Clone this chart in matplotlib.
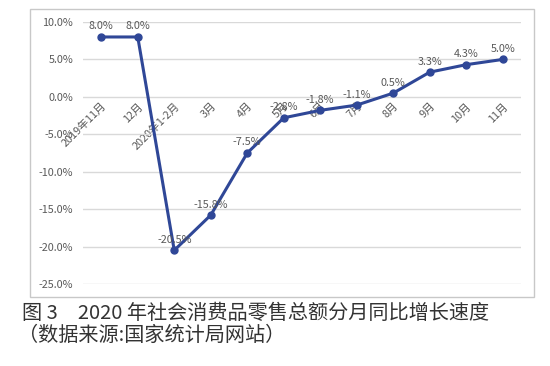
import matplotlib.pyplot as plt
from matplotlib.patches import Rectangle

plt.rcParams['font.family'] = ['Noto Sans CJK SC', 'DejaVu Sans']

months = ['2019年11月', '12月', '2020年1-2月', '3月', '4月', '5月',
          '6月', '7月', '8月', '9月', '10月', '11月']
growth = [8.0, 8.0, -20.5, -15.8, -7.5, -2.8, -1.8, -1.1, 0.5, 3.3, 4.3, 5.0]
yticks = [10, 5, 0, -5, -10, -15, -20, -25]

LINE = '#2f4797'
GREY = '#595959'

fig = plt.figure(figsize=(5.5, 3.66), dpi=100)

# chart frame
fig.patches.append(Rectangle((30 / 550, 1 - 297 / 366), 504 / 550, 288 / 366,
                             transform=fig.transFigure, fill=False,
                             edgecolor='#c8c8c8', lw=1.0))

ax = fig.add_axes([83 / 550, 1 - 284 / 366, 438 / 550, 262 / 366])
x = list(range(len(months)))
ax.plot(x, growth, color=LINE, lw=2.2, marker='o', ms=5, zorder=3)

for xi, v in zip(x, growth):
    ax.annotate(f'{v:.1f}%', (xi, v), xytext=(0, 4), textcoords='offset points',
                ha='center', va='bottom', fontsize=7.8, color=GREY, zorder=4)

ax.set_xlim(-0.5, len(months) - 0.5)
ax.set_ylim(-25, 10)
ax.set_yticks(yticks)
ax.set_yticklabels([f'{t:.1f}%' for t in yticks], fontsize=7.8, color=GREY)
ax.grid(axis='y', color='#d9d9d9', lw=1.0)
ax.set_axisbelow(True)

ax.spines['bottom'].set_position(('data', 0))
for s in ax.spines.values():
    s.set_visible(False)
ax.set_xticks(x)
ax.set_xticklabels(months, rotation=45, ha='right', va='top',
                   rotation_mode='anchor', fontsize=7.8, color=GREY)
ax.tick_params(axis='both', length=0)
ax.tick_params(axis='x', pad=3)
ax.tick_params(axis='y', pad=7)

fig.text(22 / 550, 1 - 319 / 366, '图 3　2020 年社会消费品零售总额分月同比增长速度',
         fontsize=14.5, color='#333333', va='baseline', ha='left')
fig.text(18 / 550, 1 - 341 / 366, '（数据来源:国家统计局网站）',
         fontsize=14.5, color='#333333', va='baseline', ha='left')

fig.savefig('out.png', dpi=100)
